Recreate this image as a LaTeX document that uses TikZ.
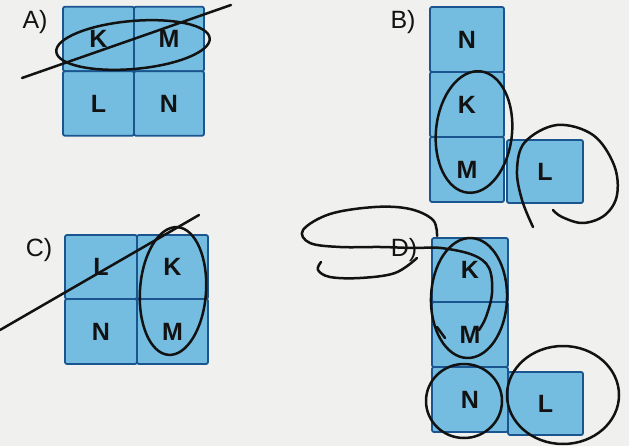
\documentclass[tikz,border=0pt]{standalone}
\usepackage{fontspec}
\setmainfont{Liberation Sans}
\definecolor{paper}{HTML}{F0F0EE}
\definecolor{cellfill}{HTML}{74BDE0}
\definecolor{cellline}{HTML}{1A5590}
\definecolor{ink}{HTML}{121212}
\tikzset{
  cell/.style={draw=cellline, fill=cellfill, line width=1.8pt, rounded corners=2pt,
    inner sep=0pt, font=\fontsize{25}{25}\selectfont\bfseries, text=ink},
  optlabel/.style={font=\fontsize{25}{25}\selectfont, text=ink, inner sep=0pt},
  pen/.style={draw=ink, line width=2.5pt, line cap=round, line join=round}
}
\begin{document}
\begin{tikzpicture}[x=1pt, y=-1pt]
  \useasboundingbox[fill=paper] (0,0) rectangle (629,446);

  % ---- option A: 2x2 square ----
  \node[optlabel] (labA) at (35,22) {A)};
  \node[cell, minimum width=71pt, minimum height=64.5pt] (aK) at (98.5,39) {K};
  \node[cell, minimum width=70pt, minimum height=64.5pt] (aM) at (169,39) {M};
  \node[cell, minimum width=71pt, minimum height=64.5pt] (aL) at (98.5,103.5) {L};
  \node[cell, minimum width=70pt, minimum height=64.5pt] (aN) at (169,103.5) {N};

  % ---- option B: column with L at the foot ----
  \node[optlabel] (labB) at (403,22) {B)};
  \node[cell, minimum width=74pt, minimum height=65pt] (bN) at (467,39.5) {N};
  \node[cell, minimum width=74pt, minimum height=65pt] (bK) at (467,104.5) {K};
  \node[cell, minimum width=74pt, minimum height=65pt] (bM) at (467,169.5) {M};
  \node[cell, minimum width=76pt, minimum height=63pt] (bL) at (545,171.5) {L};

  % ---- option C: 2x2 square ----
  \node[optlabel] (labC) at (39,250) {C)};
  \node[cell, minimum width=72pt, minimum height=64pt] (cL) at (101,267) {L};
  \node[cell, minimum width=71pt, minimum height=64pt] (cK) at (172.5,267) {K};
  \node[cell, minimum width=72pt, minimum height=65pt] (cN) at (101,331.5) {N};
  \node[cell, minimum width=71pt, minimum height=65pt] (cM) at (172.5,331.5) {M};

  % ---- option D: column with L at the foot ----
  \node[cell, minimum width=76pt, minimum height=64pt] (dK) at (470,270) {K};
  \node[cell, minimum width=76pt, minimum height=65pt] (dM) at (470,334.5) {M};
  \node[cell, minimum width=76pt, minimum height=65pt] (dN) at (470,399.5) {N};
  \node[cell, minimum width=75pt, minimum height=63pt] (dL) at (545.5,403.5) {L};
  \node[optlabel] (labD) at (404,250) {D)};

  % ---- pen marks ----
  % A: loop round K and M, struck through
  \draw[pen] (133,45) ellipse [x radius=77pt, y radius=24pt, rotate=5];
  \draw[pen] (22,78) -- (231,5);

  % B: loop round K and M, open loop round L
  \draw[pen] (474,132) ellipse [x radius=38pt, y radius=61pt, rotate=-6];
  \draw[pen] plot[smooth, tension=0.6] coordinates {(533,227) (522,200) (517,170) (525,142)
    (557,125) (593,135) (614,165) (617,195) (605,215) (583,223) (562,217) (553,210)};

  % C: loop round K and M, struck through
  \draw[pen] (173,291) ellipse [x radius=33pt, y radius=64pt, rotate=-4];
  \draw[pen] (0,330) -- (199,215);

  % D: loops round K-M, N and L, plus scribbles through the label
  \draw[pen] (469,298) ellipse [x radius=38pt, y radius=60pt, rotate=-2];
  \draw[pen] (464,401) ellipse [x radius=38pt, y radius=37pt];
  \draw[pen] (563,395) ellipse [x radius=56pt, y radius=49pt];
  \draw[pen] plot[smooth, tension=0.6] coordinates {(437,236) (433,220) (410,209) (375,207)
    (330,214) (303,230) (310,243) (340,247) (380,247) (413,248) (441,248) (473,255)
    (489,268) (492,293) (486,317) (479,330)};
  \draw[pen] plot[smooth, tension=0.6] coordinates {(321,262) (318,270) (330,277) (360,278)
    (395,273) (417,258)};
  \draw[pen] (445,338) -- (437,327);
\end{tikzpicture}
\end{document}
